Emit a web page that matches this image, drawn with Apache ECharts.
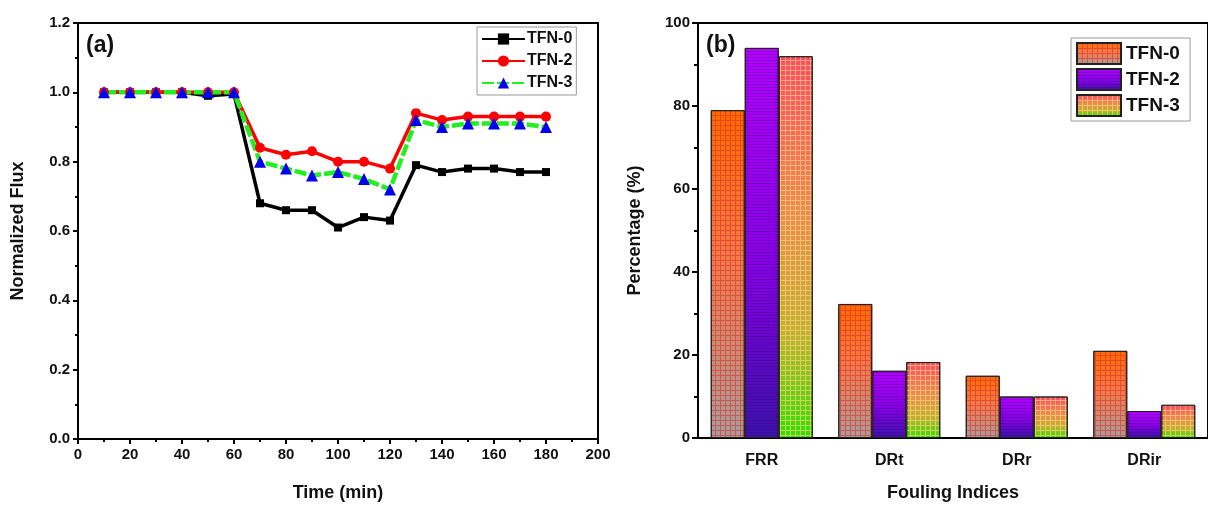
<!DOCTYPE html>
<html>
<head>
<meta charset="utf-8">
<script src="https://cdn.jsdelivr.net/npm/echarts@6/dist/echarts.min.js"></script>
<style>
  html, body { margin: 0; padding: 0; background: #fff; }
  #chart { width: 1208px; height: 507px; }
</style>
</head>
<body>
<div id="chart"></div>
<script>
// (a) 通量随时间变化
const timeList = [10, 20, 30, 40, 50, 60, 70, 80, 90, 100, 110, 120, 130, 140, 150, 160, 170, 180];
const fluxTFN0 = [1.0, 1.0, 1.0, 1.0, 0.99, 0.995, 0.68, 0.66, 0.66, 0.61, 0.64, 0.63, 0.79, 0.77, 0.78, 0.78, 0.77, 0.77];
const fluxTFN2 = [1.0, 1.0, 1.0, 1.0, 1.0, 1.0, 0.84, 0.82, 0.83, 0.80, 0.80, 0.78, 0.94, 0.92, 0.93, 0.93, 0.93, 0.93];
const fluxTFN3 = [1.0, 1.0, 1.0, 1.0, 1.0, 1.0, 0.80, 0.78, 0.76, 0.77, 0.75, 0.72, 0.92, 0.90, 0.91, 0.91, 0.91, 0.90];

// (b) 污染指数
const foulingCats = ['FRR', 'DRt', 'DRr', 'DRir'];
const pctTFN0 = [79, 32.3, 15, 21];
const pctTFN2 = [94, 16.2, 10, 6.5];
const pctTFN3 = [92, 18.3, 10, 8];

const seriesNames = ['TFN-0', 'TFN-2', 'TFN-3'];

const font = 'Liberation Sans, Arial, sans-serif';
const boldText = (size) => ({ fontFamily: font, fontWeight: 'bold', fontSize: size, color: '#111' });

function toPairs(ys) {
    return ys.map((v, i) => [timeList[i], v]);
}

function grad(stops) {
    return new echarts.graphic.LinearGradient(0, 0, 0, 1, stops);
}

// 网格纹理
const gridDecal = (color) => ({
    symbol: 'rect',
    symbolSize: 1,
    color: color,
    dashArrayX: [[5, 0], [1, 4]],
    dashArrayY: [1, 0, 4, 0]
});
// 横条纹理
const stripeDecal = (color) => ({
    symbol: 'rect',
    symbolSize: 1,
    color: color,
    dashArrayX: [[5, 0]],
    dashArrayY: [1, 2]
});

const chart = echarts.init(document.getElementById('chart'));

const option = {
    animation: false,
    backgroundColor: '#fff',
    graphic: [
        { type: 'text', left: 86, top: 34, style: { text: '(a)', font: 'bold 23px ' + font, fill: '#111' } },
        { type: 'text', left: 706, top: 34, style: { text: '(b)', font: 'bold 23px ' + font, fill: '#111' } }
    ],
    grid: [
        { left: 78, top: 23, width: 520, height: 419, show: true, borderColor: '#000', borderWidth: 2 },
        { left: 698, top: 23, right: -12, bottom: 64, show: true, borderColor: '#000', borderWidth: 2 }
    ],
    legend: [
        {
            data: seriesNames.slice(),
            orient: 'vertical',
            left: 477, top: 27,
            itemWidth: 43, itemHeight: 14, itemGap: 6,
            padding: [4, 4],
            borderColor: '#999', borderWidth: 1,
            textStyle: Object.assign({ padding: [0, 0, 0, -3] }, boldText(16))
        },
        {
            data: seriesNames.map(n => n + ' '),
            orient: 'vertical',
            left: 1071, top: 38,
            icon: 'rect',
            itemWidth: 44, itemHeight: 21, itemGap: 3,
            padding: [4, 5],
            borderColor: '#999', borderWidth: 1,
            textStyle: boldText(19)
        }
    ],
    xAxis: [
        {
            gridIndex: 0, type: 'value', min: 0, max: 200, interval: 20,
            name: 'Time (min)', nameLocation: 'middle', nameGap: 45, nameTextStyle: boldText(18),
            axisLine: { lineStyle: { color: '#000', width: 2 } },
            axisTick: { length: 5, lineStyle: { color: '#000', width: 2 } },
            minorTick: { show: true, splitNumber: 2, length: 3, lineStyle: { color: '#000', width: 2 } },
            axisLabel: Object.assign({ margin: 8 }, boldText(15)),
            splitLine: { show: false }
        },
        {
            gridIndex: 1, type: 'category', data: foulingCats,
            name: 'Fouling Indices', nameLocation: 'middle', nameGap: 46, nameTextStyle: boldText(18),
            axisLine: { lineStyle: { color: '#000', width: 2 } },
            axisTick: { alignWithLabel: true, length: 6, lineStyle: { color: '#000', width: 2 } },
            axisLabel: Object.assign({ margin: 15 }, boldText(16)),
            splitLine: { show: false }
        }
    ],
    yAxis: [
        {
            gridIndex: 0, type: 'value', min: 0, max: 1.2, interval: 0.2,
            name: 'Normalized Flux', nameLocation: 'middle', nameGap: 51, nameTextStyle: boldText(18),
            axisLine: { show: true, lineStyle: { color: '#000', width: 2 } },
            axisTick: { show: true, length: 5, lineStyle: { color: '#000', width: 2 } },
            minorTick: { show: true, splitNumber: 2, length: 3, lineStyle: { color: '#000', width: 2 } },
            axisLabel: Object.assign({ margin: 8, formatter: v => v.toFixed(1) }, boldText(15)),
            splitLine: { show: false }
        },
        {
            gridIndex: 1, type: 'value', min: 0, max: 100, interval: 20,
            name: 'Percentage (%)', nameLocation: 'middle', nameGap: 54, nameTextStyle: boldText(18),
            axisLine: { show: true, lineStyle: { color: '#000', width: 2 } },
            axisTick: { show: true, length: 6, lineStyle: { color: '#000', width: 2 } },
            minorTick: { show: true, splitNumber: 2, length: 4, lineStyle: { color: '#000', width: 2 } },
            axisLabel: Object.assign({ margin: 8 }, boldText(15)),
            splitLine: { show: false }
        }
    ],
    series: [
        {
            name: 'TFN-0', type: 'line', xAxisIndex: 0, yAxisIndex: 0,
            data: toPairs(fluxTFN0),
            symbol: 'rect', symbolSize: 8,
            lineStyle: { color: '#000', width: 3.5 },
            itemStyle: { color: '#000' }
        },
        {
            name: 'TFN-2', type: 'line', xAxisIndex: 0, yAxisIndex: 0,
            data: toPairs(fluxTFN2),
            symbol: 'circle', symbolSize: 10,
            lineStyle: { color: '#ff0000', width: 3.5 },
            itemStyle: { color: '#ff0000' }
        },
        {
            name: 'TFN-3', type: 'line', xAxisIndex: 0, yAxisIndex: 0,
            data: toPairs(fluxTFN3),
            symbol: 'triangle', symbolSize: 12,
            lineStyle: { color: '#22ee22', width: 4.5, type: [12, 3] },
            itemStyle: { color: '#0000ee' }
        },
        {
            name: 'TFN-0 ', type: 'bar', xAxisIndex: 1, yAxisIndex: 1,
            data: pctTFN0,
            barGap: '0%', barCategoryGap: '20%',
            itemStyle: {
                color: grad([{ offset: 0, color: '#ff6a00' }, { offset: 0.45, color: '#f47a48' }, { offset: 1, color: '#a89c9c' }]),
                borderColor: '#222', borderWidth: 1,
                decal: gridDecal('rgba(215,40,40,0.55)')
            }
        },
        {
            name: 'TFN-2 ', type: 'bar', xAxisIndex: 1, yAxisIndex: 1,
            data: pctTFN2,
            barGap: '0%', barCategoryGap: '20%',
            itemStyle: {
                color: grad([{ offset: 0, color: '#b400ff' }, { offset: 0.55, color: '#8800e6' }, { offset: 1, color: '#3812a8' }]),
                borderColor: '#222', borderWidth: 1,
                decal: stripeDecal('rgba(70,0,140,0.4)')
            }
        },
        {
            name: 'TFN-3 ', type: 'bar', xAxisIndex: 1, yAxisIndex: 1,
            data: pctTFN3,
            barGap: '0%', barCategoryGap: '20%',
            itemStyle: {
                color: grad([{ offset: 0, color: '#ff4a66' }, { offset: 0.4, color: '#ec8a50' }, { offset: 0.72, color: '#c4b030' }, { offset: 1, color: '#30e000' }]),
                borderColor: '#222', borderWidth: 1,
                decal: gridDecal('rgba(255,215,130,0.65)')
            }
        }
    ]
};

chart.setOption(option);
</script>
</body>
</html>
